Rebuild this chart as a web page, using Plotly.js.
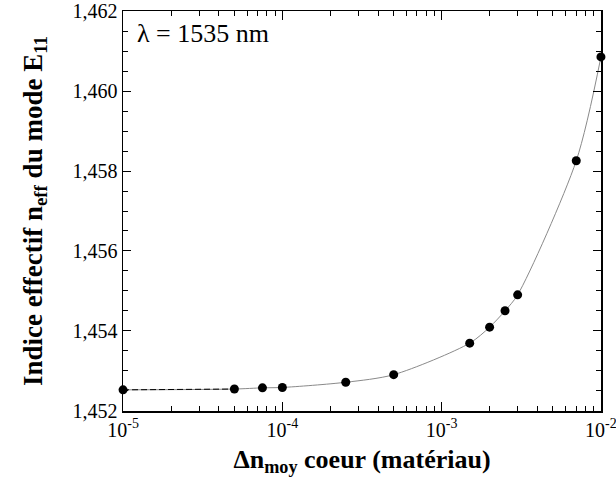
<!DOCTYPE html>
<html>
<head>
<meta charset="utf-8">
<script src="https://cdn.plot.ly/plotly-3.0.1.min.js"></script>
<style>
  html, body { margin: 0; padding: 0; background: #fff; }
  #chart { width: 616px; height: 493px; }
</style>
</head>
<body>
<div id="chart"></div>
<script>
// Effective index of the E11 mode versus mean core index change (λ = 1535 nm)
const deltaN = [1e-5, 5e-5, 7.5e-5, 1e-4, 2.5e-4, 5e-4, 1.5e-3, 2e-3, 2.5e-3, 3e-3, 7e-3, 1e-2];
const nEff   = [1.45252, 1.45254, 1.45257, 1.45258, 1.45271, 1.4529, 1.45369, 1.45409, 1.4545, 1.4549, 1.45826, 1.46086];

const xTickVals  = [1e-5, 1e-4, 1e-3, 1e-2];
const xTickText  = ['10<sup>-5</sup>', '10<sup>-4</sup>', '10<sup>-3</sup>', '10<sup>-2</sup>'];
const xMinorVals = [];
[1e-5, 1e-4, 1e-3].forEach(d => { for (let k = 2; k <= 9; k++) xMinorVals.push(k * d); });

const yTickVals = [1.452, 1.454, 1.456, 1.458, 1.460, 1.462];

const serif = 'Liberation Serif, Times New Roman, serif';

const traces = [
  {
    // smooth fit through the computed points
    x: deltaN, y: nEff,
    mode: 'lines', type: 'scatter',
    line: { color: '#8a8a8a', width: 1, shape: 'spline', smoothing: 0.8 },
    hoverinfo: 'skip'
  },
  {
    // low-contrast region drawn dashed
    x: deltaN.slice(0, 2), y: nEff.slice(0, 2),
    mode: 'lines', type: 'scatter',
    line: { color: '#000', width: 1, dash: '6px,3px' },
    hoverinfo: 'skip'
  },
  {
    x: deltaN, y: nEff,
    mode: 'markers', type: 'scatter',
    marker: { color: '#000', size: 9 },
    cliponaxis: false
  }
];

const layout = {
  width: 616, height: 493,
  margin: { l: 123, r: 15, t: 11, b: 82 },
  paper_bgcolor: '#fff', plot_bgcolor: '#fff',
  showlegend: false,
  separators: ', ',
  font: { family: serif, color: '#000', size: 20 },
  xaxis: {
    type: 'log',
    range: [-5.0004, -1.9996],
    tickvals: xTickVals, ticktext: xTickText,
    ticklabeloverflow: 'allow',
    ticks: 'inside', ticklen: 9, tickwidth: 1, tickcolor: '#000',
    minor: { tickvals: xMinorVals, ticks: 'inside', ticklen: 5, tickwidth: 1, tickcolor: '#000' },
    showline: true, linecolor: '#000', linewidth: 1.5, mirror: 'ticks',
    showgrid: false, zeroline: false,
    tickfont: { family: serif, size: 20 },
    title: {
      text: 'Δn<sub>moy</sub> coeur (matériau)',
      font: { family: serif, size: 26, weight: 'bold' },
      standoff: 10
    }
  },
  yaxis: {
    range: [1.45199, 1.46201],
    tickvals: yTickVals,
    tickformat: '.3f',
    ticklabeloverflow: 'allow',
    ticks: 'inside', ticklen: 8, tickwidth: 1, tickcolor: '#000',
    minor: { dtick: 0.0005, tick0: 1.452, ticks: 'inside', ticklen: 5, tickwidth: 1, tickcolor: '#000' },
    showline: true, linecolor: '#000', linewidth: 1.5, mirror: 'ticks',
    showgrid: false, zeroline: false,
    tickfont: { family: serif, size: 20 },
    title: {
      // trailing spaces push the rotated title slightly toward the bottom
      text: 'Indice effectif n<sub>eff</sub> du mode E<sub>11</sub>\u00a0\u00a0\u00a0\u00a0',
      font: { family: serif, size: 27, weight: 'bold' },
      standoff: 22
    }
  },
  annotations: [{
    xref: 'paper', yref: 'paper',
    x: 0.025, y: 0.945, xanchor: 'left', yanchor: 'middle',
    text: 'λ = 1535 nm', showarrow: false,
    font: { family: serif, size: 26, color: '#000' }
  }]
};

Plotly.newPlot('chart', traces, layout, { displayModeBar: false, staticPlot: true });
</script>
</body>
</html>
